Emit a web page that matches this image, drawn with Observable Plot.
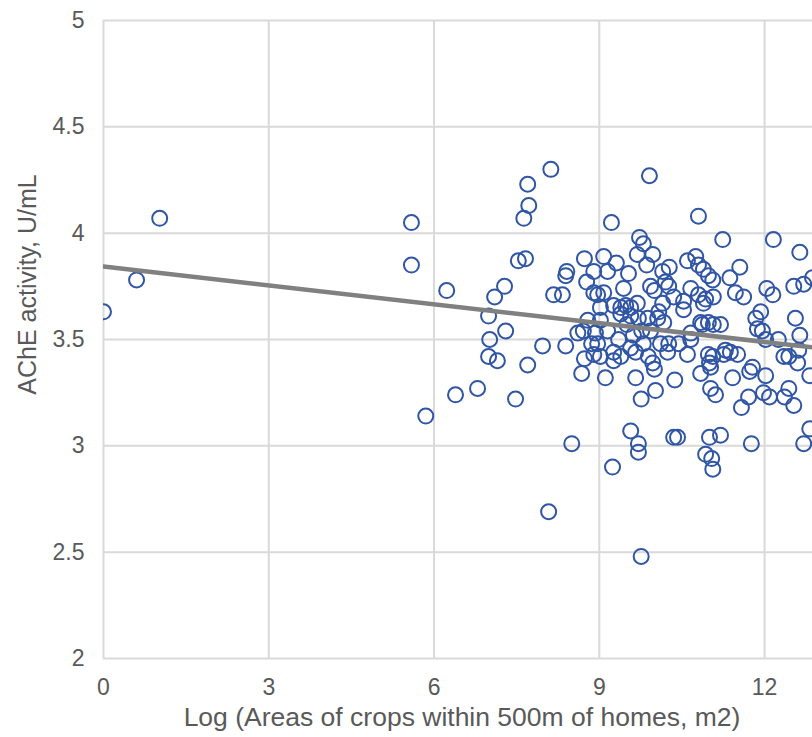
<!DOCTYPE html>
<html>
<head>
<meta charset="utf-8">
<script src="https://cdn.jsdelivr.net/npm/d3@7"></script>
<script src="https://cdn.jsdelivr.net/npm/@observablehq/plot@0.6"></script>
<style>
  html, body { margin: 0; padding: 0; background: #fff; overflow: hidden; }
  #chart svg { display: block; }
</style>
</head>
<body>
<div id="chart"></div>
<script>
// Log area of crops within 500 m of homes (m2)
const logArea = [
  0.00, 0.60, 1.02, 5.59, 5.59, 5.85, 6.23, 6.39, 6.79, 6.99,
  7.01, 6.99, 7.10, 7.15, 7.28, 7.30, 7.48, 7.70, 7.72, 7.63,
  8.12, 7.53, 7.66, 7.70, 7.97, 8.08, 8.17, 8.33, 8.41, 8.39,
  8.39, 8.50, 8.61, 8.68, 8.73, 8.73, 8.77, 8.90, 8.86, 8.90,
  8.79, 8.71, 8.90, 8.97, 9.08, 9.08, 9.02, 8.93, 8.97, 9.02,
  9.11, 9.15, 9.15, 9.22, 9.24, 9.26, 9.26, 9.26, 9.31, 9.35,
  9.39, 9.39, 9.44, 9.48, 9.53, 9.57, 9.57, 9.57, 9.57, 9.62,
  9.66, 9.69, 9.69, 9.71, 9.71, 9.71, 9.73, 9.76, 9.76, 9.80,
  9.80, 9.86, 9.88, 9.89, 9.91, 9.93, 9.97, 9.97, 10.00, 10.02,
  10.06, 10.08, 10.00, 10.11, 10.15, 10.15, 10.17, 10.20, 10.24, 10.26,
  10.26, 10.27, 10.35, 10.35, 10.37, 10.42, 10.44, 10.53, 10.53, 10.60,
  10.60, 10.66, 10.66, 10.66, 10.75, 10.80, 10.80, 10.80, 10.84, 10.84,
  10.87, 10.89, 10.89, 10.93, 10.93, 10.98, 10.98, 10.98, 11.00, 11.00,
  11.02, 11.02, 11.04, 11.06, 11.06, 11.06, 11.07, 11.11, 11.20, 11.20,
  11.24, 11.26, 11.29, 11.37, 11.38, 11.42, 11.47, 11.51, 11.55, 11.58,
  11.62, 11.71, 11.73, 11.76, 11.78, 11.84, 11.87, 11.93, 11.96, 11.98,
  12.02, 12.02, 12.04, 12.09, 12.15, 12.16, 12.25, 12.35, 12.36, 12.44,
  12.44, 12.53, 12.53, 12.56, 12.60, 12.62, 12.64, 12.64, 12.71, 12.71,
  12.82, 12.82, 12.87, 9.50, 9.77, 9.93, 9.39, 9.66, 9.02, 11.07
];
// AChE activity (U/mL)
const ache = [
  3.63, 3.78, 4.07, 4.05, 3.85, 3.14, 3.73, 3.24, 3.27, 3.61,
  3.50, 3.42, 3.70, 3.40, 3.75, 3.54, 3.22, 4.23, 4.13, 4.07,
  4.30, 3.87, 3.88, 3.38, 3.47, 2.69, 3.71, 3.71, 3.82, 3.80,
  3.47, 3.01, 3.53, 3.34, 3.41, 3.88, 3.77, 3.82, 3.48, 3.43,
  3.59, 3.54, 3.72, 3.71, 3.72, 3.89, 3.59, 3.53, 3.48, 3.42,
  3.32, 3.82, 3.54, 4.05, 2.90, 3.66, 3.44, 3.40, 3.86, 3.50,
  3.65, 3.62, 3.74, 3.66, 3.81, 3.65, 3.61, 3.46, 3.07, 3.52,
  3.32, 3.67, 3.90, 3.60, 3.01, 2.97, 3.98, 3.22, 2.48, 3.95,
  3.48, 3.85, 3.60, 3.42, 4.27, 3.75, 3.90, 3.39, 3.73, 3.26,
  3.60, 3.63, 3.36, 3.48, 3.82, 3.67, 3.58, 3.77, 3.44, 3.75,
  3.48, 3.84, 3.70, 3.04, 3.31, 3.04, 3.48, 3.68, 3.64, 3.87,
  3.43, 3.74, 3.53, 3.50, 3.89, 3.85, 3.71, 4.08, 3.58, 3.34,
  3.57, 3.83, 3.67, 3.69, 2.96, 3.80, 3.58, 3.43, 3.39, 3.04,
  3.37, 3.27, 2.94, 3.78, 3.42, 2.89, 3.57, 3.24, 3.57, 3.05,
  3.97, 3.43, 3.45, 3.79, 3.44, 3.32, 3.72, 3.43, 3.84, 3.18,
  3.70, 3.23, 3.35, 3.01, 3.37, 3.60, 3.55, 3.63, 3.54, 3.25,
  3.33, 3.50, 3.74, 3.23, 3.71, 3.97, 3.50, 3.42, 3.23, 3.27,
  3.42, 3.75, 3.19, 3.60, 3.39, 3.45, 3.52, 3.91, 3.76, 3.01,
  3.33, 3.08, 3.79, 3.57, 3.54, 3.54, 3.42, 3.44, 3.65, 3.70
];
// Linear trendline endpoints
const trendX = [0, 13];
const trendY = [3.843, 3.459];

const xTicks = [0, 3, 6, 9, 12];
const yTicks = [2, 2.5, 3, 3.5, 4, 4.5, 5];
const xTitle = "Log (Areas of crops within 500m of homes, m2)";
const yTitle = "AChE activity, U/mL";

const points = logArea.map((x, i) => ({x, y: ache[i]}));
const trend = trendX.map((x, i) => ({x, y: trendY[i]}));

const gridColor = "#d9d9d9";
const textColor = "#595959";

const chart = Plot.plot({
  width: 812,
  height: 737,
  marginLeft: 103,
  marginRight: 0,
  marginTop: 20,
  marginBottom: 79,
  style: {fontFamily: "'Liberation Sans', Arial, sans-serif", background: "#fff"},
  x: {domain: [0, 12.87], ticks: xTicks},
  y: {domain: [2, 5], ticks: yTicks},
  marks: [
    Plot.gridX(xTicks, {stroke: gridColor, strokeOpacity: 1, strokeWidth: 2}),
    Plot.gridY(yTicks, {stroke: gridColor, strokeOpacity: 1, strokeWidth: 2}),
    Plot.axisX(xTicks, {tickSize: 0, tickPadding: 20, fontSize: 23, fill: textColor, label: null, tickFormat: d => String(d)}),
    Plot.axisY(yTicks, {tickSize: 0, tickPadding: 19, fontSize: 23, fill: textColor, label: null, tickFormat: d => String(d)}),
    Plot.dot(points, {x: "x", y: "y", r: 7.5, stroke: "#2f55a4", strokeWidth: 2, fill: "none", clip: true}),
    Plot.line(trend, {x: "x", y: "y", stroke: "#808080", strokeWidth: 4.5, clip: true}),
    Plot.text([xTitle], {frameAnchor: "bottom", textAnchor: "middle", dy: 59, dx: 4, lineAnchor: "middle", fontSize: 26.5, fill: textColor}),
    Plot.text([yTitle], {frameAnchor: "left", textAnchor: "middle", rotate: -90, dx: -76, dy: -55, lineAnchor: "middle", fontSize: 25, fill: textColor})
  ]
});
document.getElementById("chart").appendChild(chart);
</script>
</body>
</html>
